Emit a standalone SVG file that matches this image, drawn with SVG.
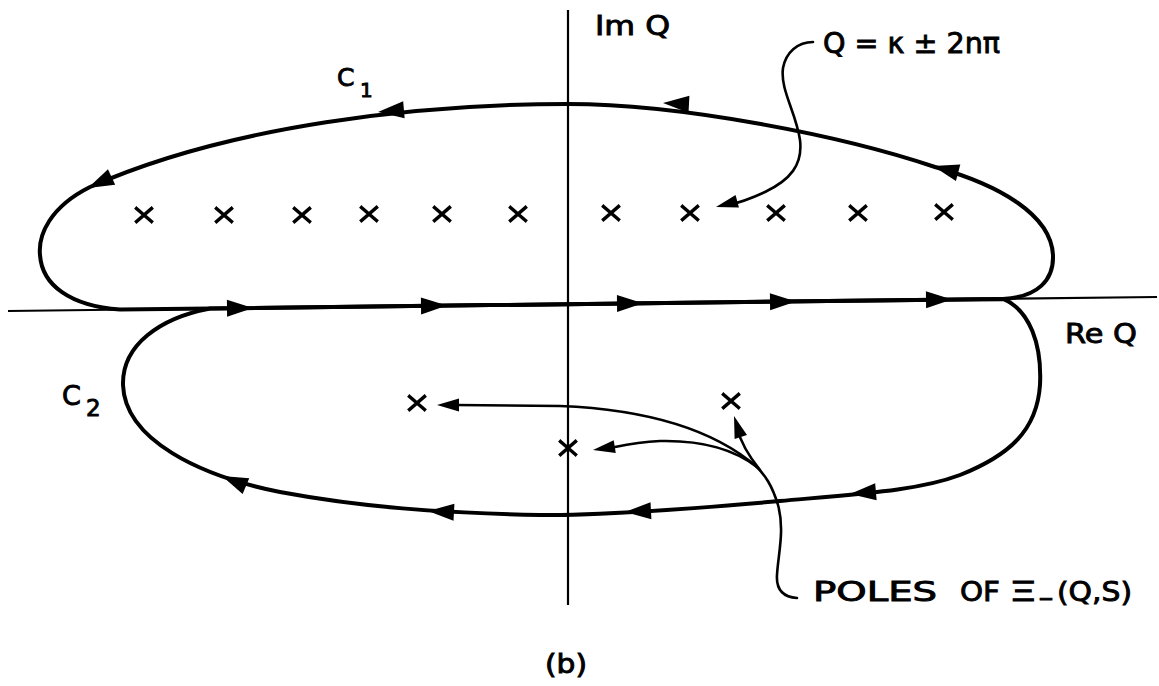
<svg xmlns="http://www.w3.org/2000/svg" xmlns:xlink="http://www.w3.org/1999/xlink" width="1159" height="686" viewBox="0 0 1159 686">
<style>
.axis{stroke:#000;stroke-width:2.2;fill:none}
.contour{stroke:#000;stroke-width:4;fill:none;stroke-linejoin:round;stroke-linecap:round}
.leader{stroke:#000;stroke-width:2.6;fill:none;stroke-linecap:round}
.pole{stroke:#000;stroke-width:3.4;fill:none;stroke-linecap:square}
.head{fill:#000;stroke:none}
.lbl{font-family:"DejaVu Sans","Liberation Sans",sans-serif;font-weight:normal;fill:#000;stroke:#000;stroke-width:0.9}
</style>
<defs>
<path id="ah" class="head" d="M0,0 L-26,-8.5 L-26,8.5 Z"/>
<path id="ahs" class="head" d="M0,0 L-22,-6.5 L-22,6.5 Z"/>
<path id="x" class="pole" d="M-7.5,-6.5 L7.5,6.5 M-7.5,6.5 L7.5,-6.5"/>
</defs>
<rect width="1159" height="686" fill="#fff"/>

<g id="axes">
<line class="axis" x1="8" y1="311" x2="1157" y2="297"/>
<line class="axis" x1="568" y1="10" x2="568" y2="605"/>
</g>

<g id="contour-C1">
<path class="contour" d="M120,309.6 L1003,298.9 C1038,297 1054,280 1053,255 C1051,215 1000,185 935,167 C840,135 680,104 568,104 C420,104 230,125 90,187 C50,207 38,235 40,255 C42,285 70,306 120,309.6 Z"/>
<use xlink:href="#ah" transform="translate(933,166) rotate(195)"/>
<use xlink:href="#ah" transform="translate(663,103) rotate(183)"/>
<use xlink:href="#ah" transform="translate(378,112) rotate(175)"/>
<use xlink:href="#ah" transform="translate(88,188) rotate(155)"/>
<use xlink:href="#ah" transform="translate(253,308) rotate(-0.7)"/>
<use xlink:href="#ah" transform="translate(447,305.6) rotate(-0.7)"/>
<use xlink:href="#ah" transform="translate(643,303.2) rotate(-0.7)"/>
<use xlink:href="#ah" transform="translate(796,301.4) rotate(-0.7)"/>
<use xlink:href="#ah" transform="translate(952,299.5) rotate(-0.7)"/>
</g>

<g id="contour-C2">
<path class="contour" d="M210,308.5 L1003,298.9 C1030,310 1042,345 1040,385 C1037,430 1010,455 960,475 C920,490 870,493 780,501 C700,508 600,516 540,515 C440,513 360,507 280,492 C200,476 125,440 123,385 C122,345 160,318 210,308.5 Z"/>
<use xlink:href="#ah" transform="translate(850,494) rotate(175)"/>
<use xlink:href="#ah" transform="translate(625,512) rotate(177)"/>
<use xlink:href="#ah" transform="translate(428,511) rotate(183)"/>
<use xlink:href="#ah" transform="translate(222,476) rotate(203)"/>
</g>

<g id="poles">
<use xlink:href="#x" x="144" y="215"/>
<use xlink:href="#x" x="224" y="215"/>
<use xlink:href="#x" x="302" y="215"/>
<use xlink:href="#x" x="369" y="214"/>
<use xlink:href="#x" x="442" y="214"/>
<use xlink:href="#x" x="518" y="214"/>
<use xlink:href="#x" x="611" y="213"/>
<use xlink:href="#x" x="690" y="213"/>
<use xlink:href="#x" x="776" y="213"/>
<use xlink:href="#x" x="858" y="213"/>
<use xlink:href="#x" x="944" y="212"/>
<use xlink:href="#x" x="417" y="403"/>
<use xlink:href="#x" x="568" y="448"/>
<use xlink:href="#x" x="731" y="401"/>
</g>

<g id="connectors">
<path class="leader" d="M813,42 C798,42 786,52 783,68 C780,90 796,112 800,140 C803,165 790,180 765,192 C750,199 738,203 728,205"/>
<use xlink:href="#ahs" transform="translate(716,207) rotate(165)"/>
<path class="leader" d="M797,598 C783,597 776,590 777,575 C778,555 785,530 778,505 C772,485 765,475 755,465"/>
<path class="leader" d="M757,467 C720,435 660,410 560,406 L455,405"/>
<path class="leader" d="M757,467 C735,450 705,440 660,441 C635,442 620,446 610,448"/>
<path class="leader" d="M760,470 C748,455 740,440 737,428"/>
<use xlink:href="#ahs" transform="translate(437,405) rotate(180)"/>
<use xlink:href="#ahs" transform="translate(593,450) rotate(171)"/>
<use xlink:href="#ahs" transform="translate(734,416) rotate(252)"/>
</g>

<g id="labels">
<text class="lbl" x="595" y="35" font-size="27" textLength="75" lengthAdjust="spacingAndGlyphs">Im Q</text>
<text class="lbl" x="823" y="53" font-size="29" textLength="177" lengthAdjust="spacingAndGlyphs">Q = κ ± 2nπ</text>
<text class="lbl" x="337" y="86" font-size="25">C<tspan x="360" y="97" font-size="20">1</tspan></text>
<text class="lbl" x="1065" y="343" font-size="27" textLength="72" lengthAdjust="spacingAndGlyphs">Re Q</text>
<text class="lbl" x="62" y="405" font-size="27">C<tspan x="86" y="416" font-size="23">2</tspan></text>
<text class="lbl" x="813" y="601" font-size="27" textLength="124" lengthAdjust="spacingAndGlyphs">POLES</text>
<text class="lbl" x="960" y="601" font-size="27" textLength="40" lengthAdjust="spacingAndGlyphs">OF</text>
<text class="lbl" x="1009" y="601" font-size="27" textLength="28" lengthAdjust="spacingAndGlyphs">Ξ</text>
<text class="lbl" x="1038" y="606" font-size="22" textLength="16" lengthAdjust="spacingAndGlyphs">−</text>
<text class="lbl" x="1057" y="601" font-size="27" textLength="75" lengthAdjust="spacingAndGlyphs">(Q,S)</text>
<text class="lbl" x="545" y="673" font-size="26" textLength="42" lengthAdjust="spacingAndGlyphs">(b)</text>
</g>
</svg>
